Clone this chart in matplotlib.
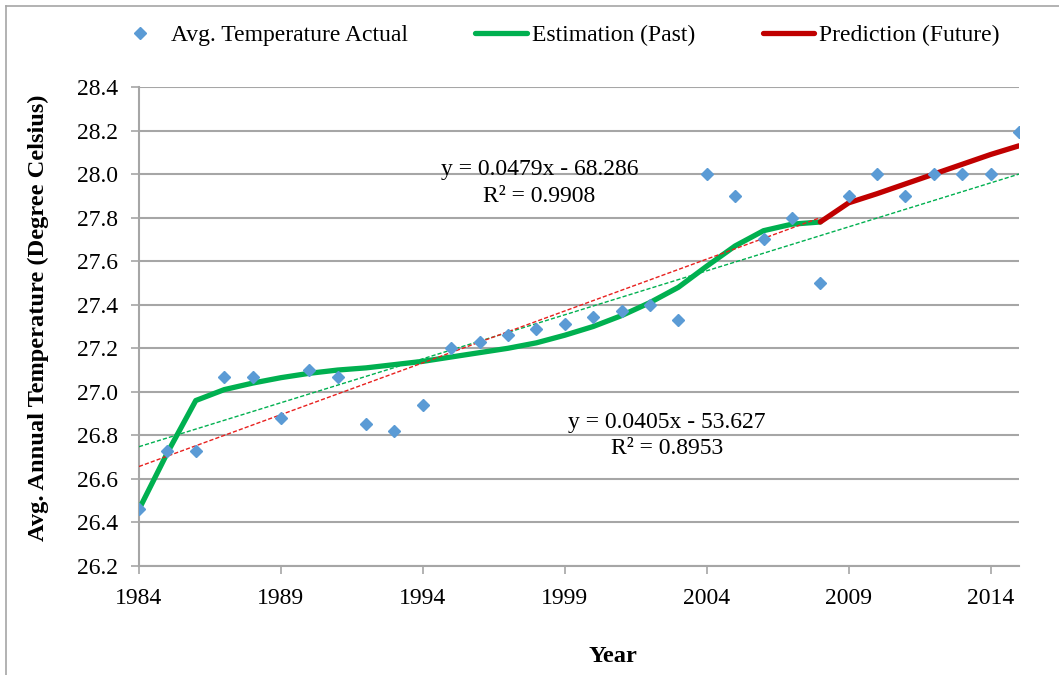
import matplotlib
matplotlib.use("Agg")
import matplotlib.pyplot as plt
from matplotlib.lines import Line2D

plt.rcParams['font.family'] = ['Liberation Serif', 'DejaVu Serif']

# --------- data -----------------------------------
years = list(range(1984, 2016))
actual = [26.46, 26.73, 26.73, 27.07, 27.07, 26.88, 27.10, 27.07, 26.85, 26.82,
          26.94, 27.20, 27.23, 27.26, 27.29, 27.31, 27.345, 27.37, 27.40, 27.33,
          28.00, 27.90, 27.70, 27.80, 27.50, 27.90, 28.00, 27.90, 28.00, 28.00,
          28.00, 28.195]

est_years = list(range(1984, 2009))
estimation = [26.46, 26.72, 26.96, 27.01, 27.04, 27.065, 27.085, 27.10, 27.11, 27.125,
              27.14, 27.16, 27.18, 27.20, 27.225, 27.26, 27.30, 27.35, 27.41, 27.48,
              27.577, 27.67, 27.74, 27.77, 27.78]

pred_years = list(range(2008, 2016))
prediction = [27.78, 27.868, 27.91, 27.955, 28.00, 28.045, 28.09, 28.13]

# linear trendlines (end points)
trend_past_x = [1984, 2008]
trend_past_y = [26.657, 27.80]
trend_all_x = [1984, 2015]
trend_all_y = [26.748, 28.00]

eq_past = "y = 0.0479x - 68.286\nR² = 0.9908"
eq_all = "y = 0.0405x - 53.627\nR² = 0.8953"

BLUE = "#5B9BD5"
GREEN = "#00B050"
RED = "#C00000"
GRID = "#A6A6A6"
FS = 17

# --------- figure ----------
fig = plt.figure(figsize=(10.59, 6.75), dpi=100)
ax = fig.add_axes([139 / 1059, 1 - 566 / 675, (1019 - 139) / 1059, (566 - 87) / 675])

ax.plot(est_years, estimation, color=GREEN, lw=3.8, solid_capstyle='round', zorder=3,
        label="Estimation (Past)")
ax.plot(pred_years, prediction, color=RED, lw=3.8, solid_capstyle='round', zorder=3,
        label="Prediction (Future)")
ax.plot(trend_all_x, trend_all_y, color=GREEN, lw=1.0, ls=(0, (3, 1.5)), zorder=4)
ax.plot(trend_past_x, trend_past_y, color="#E8201E", lw=1.0, ls=(0, (3, 1.5)), zorder=4)
ax.plot(years, actual, ls='none', marker='D', ms=6.5, color=BLUE, mec=BLUE, zorder=5,
        label="Avg. Temperature Actual")

ax.text(1998.1, 27.96, eq_past, ha='center', va='center', fontsize=FS,
        linespacing=1.35, multialignment='center')
ax.text(2002.6, 26.80, eq_all, ha='center', va='center', fontsize=FS,
        linespacing=1.35, multialignment='center')

ax.set_xlim(1984, 2015)
ax.set_ylim(26.2, 28.4)
ax.set_xticks(range(1984, 2015, 5))
ax.set_yticks([26.2 + 0.2 * i for i in range(12)])
ax.set_yticklabels([f"{26.2 + 0.2 * i:.1f}" for i in range(12)])
ax.tick_params(axis='both', labelsize=FS, color=GRID, length=6, width=1.2, direction='out')
ax.tick_params(axis='y', pad=9)
ax.tick_params(axis='x', pad=10)

ax.grid(axis='y', color=GRID, lw=1.5)
ax.set_axisbelow(True)
for s in ['top', 'right']:
    ax.spines[s].set_visible(False)
for s in ['left', 'bottom']:
    ax.spines[s].set_color(GRID)
    ax.spines[s].set_linewidth(1.5)

fig.text(38 / 1059, 1 - 318 / 675, "Avg. Annual Temperature (Degree Celsius)",
         rotation=90, ha='center', va='center', fontsize=17.6, fontweight='bold')
fig.text(613 / 1059, 1 - 657 / 675, "Year", ha='center', va='center',
         fontsize=17.6, fontweight='bold')

# legend, order as in the reference
h, l = ax.get_legend_handles_labels()
order = [2, 0, 1]
fig.legend([h[i] for i in order], [l[i] for i in order], loc='center',
           bbox_to_anchor=(557 / 1059, 1 - 35 / 675), ncol=3, frameon=False,
           fontsize=FS, handlelength=2.2, handletextpad=0.2, columnspacing=2.85,
           numpoints=1)

# outer chart border (left and top visible)
fig.add_artist(Line2D([6 / 1059, 6 / 1059], [0, 1 - 6 / 675], color=GRID, lw=1.2,
                      transform=fig.transFigure))
fig.add_artist(Line2D([6 / 1059, 1], [1 - 6 / 675, 1 - 6 / 675], color=GRID, lw=1.2,
                      transform=fig.transFigure))

fig.savefig("out.png", dpi=100)
